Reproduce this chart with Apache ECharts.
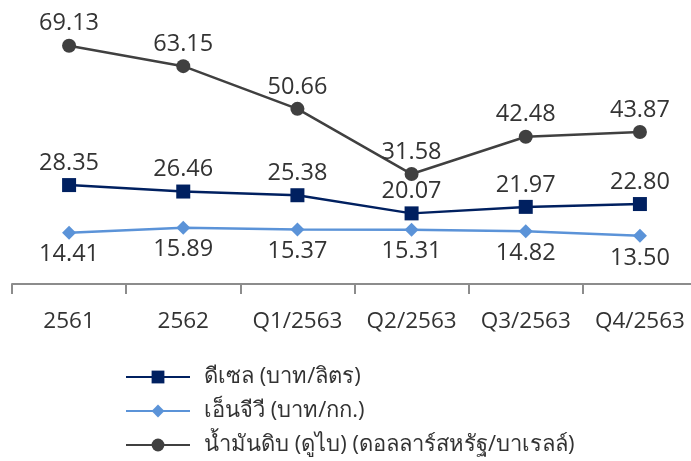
<!DOCTYPE html>
<html><head><meta charset="utf-8">
<script src="https://cdn.jsdelivr.net/npm/echarts@6/dist/echarts.min.js"></script>
<style>html,body{margin:0;padding:0;background:#fff}#c{width:691px;height:461px}</style>
</head><body><div id="c"></div>
<script>
const categories = ['2561', '2562', 'Q1/2563', 'Q2/2563', 'Q3/2563', 'Q4/2563'];
const diesel = [28.35, 26.46, 25.38, 20.07, 21.97, 22.80];
const lpg = [14.41, 15.89, 15.37, 15.31, 14.82, 13.50];
const crude = [69.13, 63.15, 50.66, 31.58, 42.48, 43.87];
const names = ['ดีเซล (บาท/ลิตร)', 'เอ็นจีวี (บาท/กก.)', 'น้ำมันดิบ (ดูไบ) (ดอลลาร์สหรัฐ/บาเรลล์)'];

const FONT = '"Open Sans", "Noto Sans", sans-serif';
const lbl = (pos) => ({show: true, position: pos, distance: 3, fontSize: 23.5, color: '#333', fontFamily: FONT,
  formatter: p => p.value.toFixed(2)});

const chart = echarts.init(document.getElementById('c'));
chart.setOption({
  animation: false,
  textStyle: {fontFamily: FONT},
  grid: {left: 12, right: -6, top: 8.6, bottom: 177, containLabel: false, outerBoundsMode: 'none'},
  xAxis: {
    type: 'category', data: categories, boundaryGap: true,
    axisLine: {onZero: false, lineStyle: {color: '#8c8c8c', width: 2}},
    axisTick: {show: true, interval: 0, length: 10, alignWithLabel: false, lineStyle: {color: '#8c8c8c', width: 2}},
    axisLabel: {interval: 0, hideOverlap: false, fontSize: 22.5, color: '#333', margin: 26, fontFamily: FONT}
  },
  yAxis: {type: 'value', min: -0.6, max: 80, show: false, splitLine: {show: false}},
  legend: {
    orient: 'vertical', left: 120, top: 361, itemGap: 12, itemWidth: 64, itemHeight: 16,
    textStyle: {fontSize: 22, lineHeight: 22, color: '#333', fontFamily: FONT, padding: [0, 0, 0, 9]},
    data: names
  },
  series: [
    {name: names[0], type: 'line', data: diesel, symbol: 'rect', symbolSize: 14,
     lineStyle: {color: '#002060', width: 2.5}, itemStyle: {color: '#002060'}, label: lbl('top')},
    {name: names[1], type: 'line', data: lpg, symbol: 'diamond', symbolSize: 14,
     lineStyle: {color: '#5b93d8', width: 2.5}, itemStyle: {color: '#5b93d8'}, label: lbl('bottom')},
    {name: names[2], type: 'line', data: crude, symbol: 'circle', symbolSize: 14,
     lineStyle: {color: '#404040', width: 2.5}, itemStyle: {color: '#404040'}, label: lbl('top')}
  ]
});
</script></body></html>
